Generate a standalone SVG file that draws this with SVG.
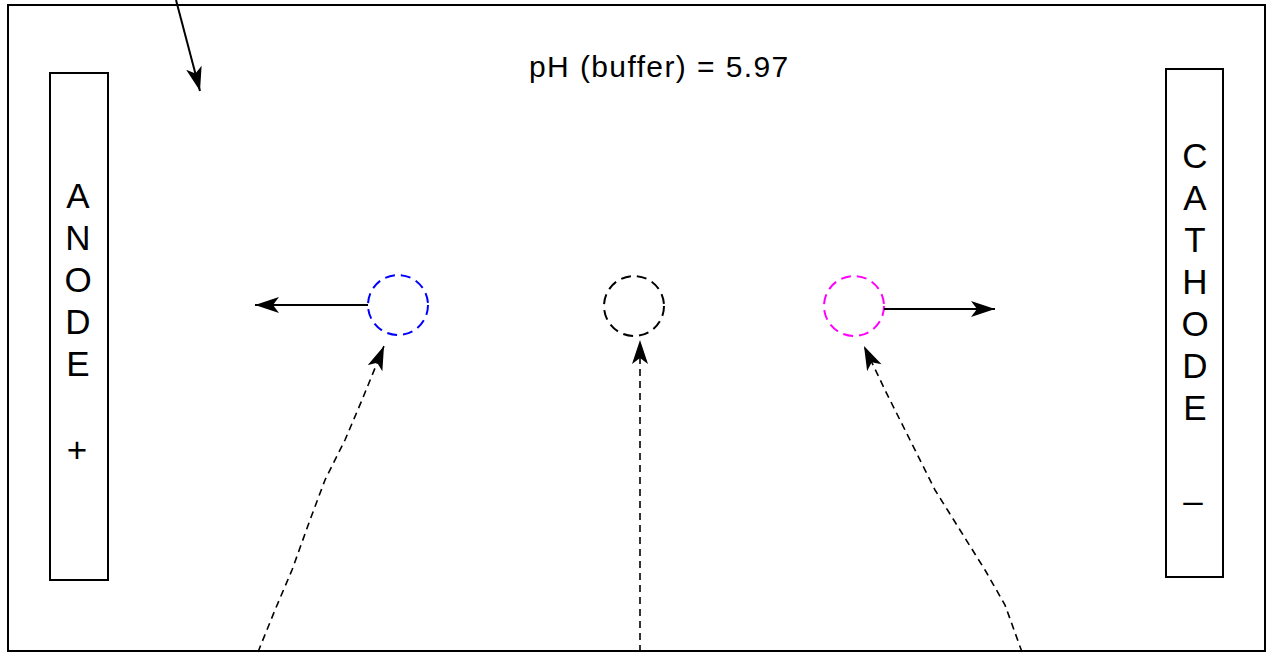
<svg xmlns="http://www.w3.org/2000/svg" width="1272" height="654" viewBox="0 0 1272 654">
<style>
.frame{fill:#fff;stroke:#000;stroke-width:2}
.box{fill:#fff;stroke:#000;stroke-width:2}
.lbl{font-family:"Liberation Sans",Arial,sans-serif;font-size:35px;fill:#000;text-anchor:middle}
.title{font-family:"Liberation Sans",Arial,sans-serif;font-size:30px;letter-spacing:1.4px;fill:#000}
.ion{fill:none;stroke-width:2;stroke-dasharray:10 6}
.solid{fill:none;stroke:#000;stroke-width:2}
.dash{fill:none;stroke:#000;stroke-width:1.6;stroke-dasharray:7 5}
</style>
<defs>
<marker id="ah" markerUnits="userSpaceOnUse" markerWidth="26" markerHeight="18" refX="24" refY="8" orient="auto" viewBox="0 0 26 18">
<path d="M0,0 L24,8 L0,16 L6,8 Z" fill="#000"/>
</marker>
</defs>
<rect class="frame" x="8" y="5" width="1257" height="646"/>
<g id="title"><text class="title" x="529" y="77">pH (buffer) = 5.97</text></g>
<g id="anode">
<rect class="box" x="50" y="73" width="58" height="507"/>
<text class="lbl" x="78" y="208">A</text>
<text class="lbl" x="78" y="250">N</text>
<text class="lbl" x="78" y="292">O</text>
<text class="lbl" x="78" y="334">D</text>
<text class="lbl" x="78" y="376">E</text>
<text class="lbl" x="77" y="462">+</text>
</g>
<g id="cathode">
<rect class="box" x="1166" y="69" width="57" height="508"/>
<text class="lbl" x="1195" y="168">C</text>
<text class="lbl" x="1195" y="210">A</text>
<text class="lbl" x="1195" y="252">T</text>
<text class="lbl" x="1195" y="294">H</text>
<text class="lbl" x="1195" y="336">O</text>
<text class="lbl" x="1195" y="378">D</text>
<text class="lbl" x="1195" y="420">E</text>
<text class="lbl" x="1193" y="513">–</text>
</g>
<g id="ion-blue"><circle class="ion" cx="398" cy="305" r="30" stroke="#0000ff"/></g>
<g id="ion-black"><circle class="ion" cx="634" cy="306" r="30" stroke="#000"/></g>
<g id="ion-magenta"><circle class="ion" cx="854" cy="306" r="30" stroke="#ff00ff"/></g>
<g id="connectors">
<line class="solid" x1="176" y1="0" x2="200" y2="91" marker-end="url(#ah)"/>
<line class="solid" x1="368" y1="305" x2="255" y2="305" marker-end="url(#ah)"/>
<line class="solid" x1="884" y1="309" x2="995" y2="309" marker-end="url(#ah)"/>
<polyline class="dash" points="258,652 275,610 292,570 310,520 325,480 345,440 362,400 384,346" marker-end="url(#ah)"/>
<line class="dash" x1="640" y1="652" x2="640" y2="340" marker-end="url(#ah)"/>
<polyline class="dash" points="1022,652 1005,605 985,570 960,530 935,490 910,440 885,390 864,346" marker-end="url(#ah)"/>
</g>
</svg>
